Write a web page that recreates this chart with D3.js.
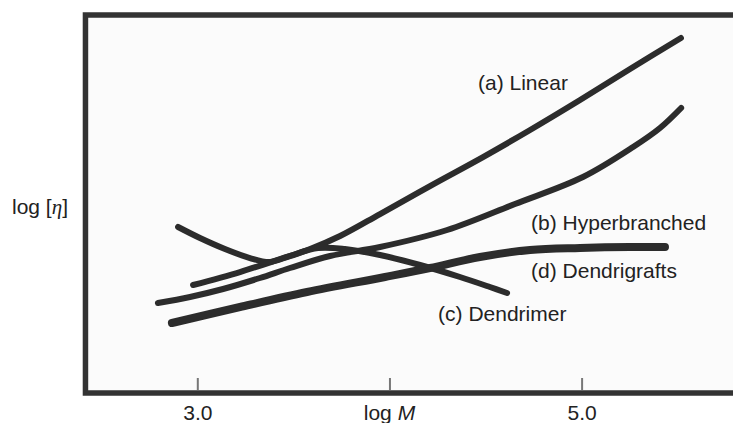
<!DOCTYPE html>
<html>
<head>
<meta charset="utf-8">
<script src="https://cdn.jsdelivr.net/npm/d3@7"></script>
<style>
  body { margin: 0; background: #fff; }
  text { font-family: "Liberation Sans", Arial, sans-serif; fill: #222; }
</style>
</head>
<body>
<div id="chart-area"></div>
<script>
// log M values and log [eta] values (arbitrary units)
const linearM   = [2.978, 3.222, 3.431, 3.587, 3.743, 3.951, 4.211, 4.487, 4.732, 4.992, 5.252, 5.517];
const linearEta = [2.857, 3.201, 3.545, 3.810, 4.153, 4.735, 5.476, 6.243, 6.958, 7.751, 8.571, 9.392];

const hyperM   = [2.795, 2.962, 3.134, 3.326, 3.482, 3.691, 3.951, 4.300, 4.653, 5.007, 5.268, 5.408, 5.518];
const hyperEta = [2.381, 2.540, 2.751, 3.042, 3.307, 3.624, 3.862, 4.312, 5.000, 5.714, 6.508, 7.011, 7.540];

const dendrimerM   = [2.900, 3.014, 3.144, 3.274, 3.378, 3.482, 3.628, 3.768, 3.951, 4.159, 4.367, 4.523, 4.612];
const dendrimerEta = [4.392, 4.101, 3.810, 3.571, 3.466, 3.624, 3.836, 3.810, 3.651, 3.386, 3.069, 2.804, 2.646];

const graftM   = [2.868, 3.222, 3.571, 3.977, 4.211, 4.471, 4.732, 4.992, 5.252, 5.434];
const graftEta = [1.852, 2.275, 2.672, 3.069, 3.307, 3.598, 3.783, 3.836, 3.862, 3.862];

const seriesNames = ["(a) Linear", "(b) Hyperbranched", "(c) Dendrimer", "(d) Dendrigrafts"];

const tickValues = [3.0, 4.0, 5.0];
const tickLabels = ["3.0", "", "5.0"];

const renderChart = () => {
    const w = 733;
    const h = 423;

    const xScale = d3.scaleLinear()
                        .domain([3, 5])
                        .range([197.3, 581.6]);

    const yScale = d3.scaleLinear()
                        .domain([0, 10])
                        .range([393, 15]);

    const svg = d3.select("#chart-area")
        .append("svg")
        .attr("width", w)
        .attr("height", h);

    // plot frame (right side runs off the picture)
    svg.append("rect")
        .attr("x", xScale(2.418))
        .attr("y", yScale(10))
        .attr("width", 760 - xScale(2.418))
        .attr("height", yScale(0) - yScale(10))
        .attr("fill", "#fbfbfb")
        .attr("stroke", "#333")
        .attr("stroke-width", 5.5);

    const xAxis = d3.axisBottom(xScale)
        .tickValues(tickValues)
        .tickSize(-12)
        .tickFormat((d, i) => tickLabels[i]);

    const gx = svg.append("g")
        .attr("id", "x-axis")
        .attr("transform", "translate(0," + (yScale(0) - 3) + ")")
        .call(xAxis);

    gx.select(".domain").remove();
    gx.selectAll(".tick line")
        .attr("stroke", "#777")
        .attr("stroke-width", 2);
    gx.selectAll(".tick text")
        .attr("y", 30)
        .attr("dy", 0)
        .attr("fill", "#222")
        .style("font-family", '"Liberation Sans", Arial, sans-serif')
        .style("font-size", "21px");

    const xTitle = svg.append("text")
        .attr("x", xScale(4))
        .attr("y", yScale(0) + 27)
        .attr("text-anchor", "middle")
        .style("font-size", "21px");
    xTitle.append("tspan").text("log ");
    xTitle.append("tspan").style("font-style", "italic").text("M");

    const yTitle = svg.append("text")
        .attr("x", 12)
        .attr("y", 214)
        .style("font-size", "21px");
    yTitle.append("tspan").text("log [");
    yTitle.append("tspan")
        .style("font-family", '"Liberation Serif", "DejaVu Serif", serif')
        .style("font-style", "italic")
        .text("η");
    yTitle.append("tspan").text("]");

    const line = d3.line()
        .x(d => xScale(d[0]))
        .y(d => yScale(d[1]))
        .curve(d3.curveCatmullRom.alpha(0.5));

    const curves = [
        { m: linearM, eta: linearEta, width: 6 },
        { m: hyperM, eta: hyperEta, width: 6 },
        { m: dendrimerM, eta: dendrimerEta, width: 6 },
        { m: graftM, eta: graftEta, width: 8 }
    ];

    svg.selectAll("path.curve")
        .data(curves)
        .enter()
        .append("path")
        .attr("class", "curve")
        .attr("d", d => line(d.m.map((v, i) => [v, d.eta[i]])))
        .attr("fill", "none")
        .attr("stroke", "#2c2c2c")
        .attr("stroke-width", d => d.width)
        .attr("stroke-linecap", "round")
        .attr("stroke-linejoin", "round");

    // label anchors in data units
    const labelM   = [4.461, 4.737, 4.253, 4.737];
    const labelEta = [8.016, 4.312, 1.905, 3.042];

    svg.selectAll("text.label")
        .data(seriesNames)
        .enter()
        .append("text")
        .attr("class", "label")
        .attr("x", (d, i) => xScale(labelM[i]))
        .attr("y", (d, i) => yScale(labelEta[i]))
        .style("font-size", "21px")
        .text(d => d);
}

renderChart();
</script>
</body>
</html>
